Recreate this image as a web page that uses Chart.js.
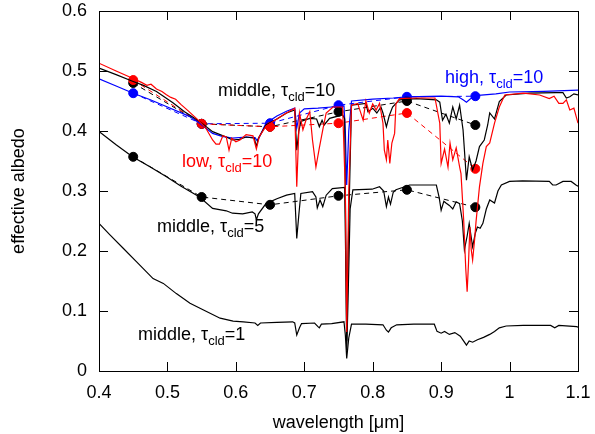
<!DOCTYPE html>
<html>
<head>
<meta charset="utf-8">
<script src="https://cdn.jsdelivr.net/npm/chart.js@4/dist/chart.umd.min.js"></script>
<style>
  body { margin: 0; background: #fff; }
</style>
</head>
<body>
<canvas id="albedo_graph" width="595" height="434"></canvas>
<script>
// tick values
const xTickVals = [0.4, 0.5, 0.6, 0.7, 0.8, 0.9, 1.0, 1.1];
const yTickVals = [0, 0.1, 0.2, 0.3, 0.4, 0.5, 0.6];

// band-averaged points (dashed lines with dots)
const dotWl = [0.45, 0.55, 0.65, 0.75, 0.85, 0.95];
const dotMid10 = [0.480, 0.412, 0.407, 0.432, 0.450, 0.410];
const dotHigh10 = [0.463, 0.412, 0.413, 0.443, 0.457, 0.458];
const dotLow10 = [0.485, 0.412, 0.407, 0.413, 0.430, 0.337];
const dotMid5 = [0.357, 0.290, 0.277, 0.292, 0.302, 0.273];

// spectra: middle cloud, tau=1
const mid1Wl = [0.400,0.416,0.435,0.455,0.479,0.494,0.513,0.533,0.552,0.577,0.596,0.611,0.628,0.632,0.636,0.660,0.683,0.686,0.689,0.693,0.696,0.715,0.720,0.722,0.725,0.740,0.758,0.760,0.762,0.765,0.769,0.790,0.815,0.820,0.823,0.827,0.835,0.860,0.890,0.894,0.900,0.905,0.912,0.920,0.928,0.934,0.937,0.941,0.946,0.953,0.962,0.971,0.978,0.985,0.995,1.020,1.060,1.066,1.072,1.098,1.100];
const mid1Alb = [0.246,0.227,0.205,0.182,0.154,0.146,0.129,0.113,0.102,0.088,0.083,0.082,0.080,0.076,0.080,0.081,0.082,0.080,0.060,0.072,0.079,0.080,0.074,0.072,0.078,0.079,0.082,0.060,0.021,0.055,0.078,0.078,0.077,0.068,0.065,0.072,0.077,0.078,0.078,0.066,0.063,0.066,0.061,0.064,0.058,0.048,0.043,0.050,0.048,0.052,0.056,0.061,0.066,0.072,0.075,0.076,0.076,0.072,0.076,0.074,0.073];

// middle cloud, tau=5
const mid5Wl = [0.400,0.425,0.449,0.475,0.498,0.520,0.547,0.566,0.586,0.595,0.610,0.624,0.628,0.630,0.633,0.644,0.660,0.674,0.686,0.689,0.692,0.695,0.712,0.717,0.719,0.723,0.727,0.732,0.741,0.759,0.761,0.762,0.764,0.767,0.771,0.799,0.810,0.816,0.820,0.823,0.826,0.830,0.834,0.854,0.893,0.897,0.900,0.904,0.907,0.912,0.917,0.922,0.927,0.931,0.934,0.938,0.941,0.946,0.950,0.953,0.957,0.961,0.966,0.971,0.978,0.983,0.988,1.000,1.019,1.058,1.063,1.068,1.078,1.090,1.097,1.100];
const mid5Alb = [0.399,0.377,0.357,0.340,0.324,0.308,0.290,0.271,0.267,0.263,0.262,0.265,0.262,0.252,0.262,0.279,0.287,0.293,0.296,0.221,0.260,0.296,0.299,0.290,0.272,0.285,0.274,0.293,0.304,0.306,0.150,0.035,0.120,0.270,0.302,0.303,0.307,0.300,0.274,0.290,0.278,0.298,0.302,0.310,0.310,0.290,0.268,0.283,0.280,0.276,0.270,0.282,0.279,0.250,0.202,0.225,0.246,0.207,0.230,0.240,0.238,0.246,0.270,0.285,0.280,0.300,0.310,0.316,0.317,0.316,0.310,0.310,0.316,0.316,0.310,0.308];

// middle cloud, tau=10
const mid10Wl = [0.400,0.425,0.449,0.465,0.484,0.508,0.525,0.547,0.566,0.586,0.595,0.605,0.615,0.627,0.630,0.633,0.644,0.660,0.674,0.686,0.689,0.692,0.695,0.708,0.718,0.722,0.726,0.729,0.737,0.756,0.759,0.762,0.765,0.769,0.790,0.793,0.800,0.806,0.812,0.815,0.820,0.824,0.829,0.839,0.864,0.893,0.898,0.902,0.907,0.912,0.917,0.922,0.927,0.932,0.937,0.941,0.946,0.951,0.956,0.963,0.968,0.971,0.978,0.985,0.995,1.029,1.068,1.078,1.083,1.088,1.094,1.100];
const mid10Alb = [0.505,0.494,0.483,0.476,0.466,0.447,0.432,0.416,0.399,0.390,0.385,0.386,0.390,0.388,0.374,0.388,0.410,0.420,0.430,0.435,0.368,0.400,0.416,0.421,0.420,0.407,0.418,0.410,0.421,0.427,0.420,0.050,0.250,0.443,0.446,0.432,0.438,0.430,0.440,0.430,0.407,0.425,0.440,0.452,0.454,0.452,0.448,0.418,0.428,0.413,0.440,0.420,0.443,0.402,0.318,0.357,0.335,0.350,0.374,0.385,0.410,0.430,0.420,0.449,0.460,0.463,0.464,0.464,0.455,0.457,0.462,0.460];

// high cloud, tau=10
const high10Wl = [0.400,0.425,0.450,0.475,0.494,0.533,0.547,0.566,0.580,0.595,0.615,0.628,0.631,0.634,0.644,0.660,0.674,0.686,0.689,0.693,0.700,0.720,0.740,0.758,0.760,0.762,0.765,0.769,0.800,0.830,0.850,0.900,0.925,0.932,0.937,0.942,0.950,0.980,1.000,1.050,1.100];
const high10Alb = [0.487,0.475,0.463,0.452,0.443,0.424,0.413,0.396,0.391,0.388,0.390,0.389,0.384,0.389,0.413,0.425,0.433,0.438,0.405,0.430,0.437,0.438,0.440,0.442,0.400,0.310,0.400,0.450,0.453,0.455,0.457,0.458,0.457,0.452,0.448,0.453,0.459,0.462,0.465,0.466,0.468];

// low cloud, tau=10
const low10Wl = [0.400,0.425,0.449,0.462,0.470,0.476,0.484,0.492,0.498,0.505,0.512,0.520,0.530,0.547,0.556,0.566,0.571,0.576,0.581,0.586,0.590,0.594,0.600,0.606,0.615,0.625,0.630,0.634,0.644,0.660,0.674,0.686,0.689,0.693,0.698,0.703,0.708,0.712,0.717,0.722,0.727,0.732,0.742,0.756,0.760,0.762,0.765,0.769,0.778,0.786,0.790,0.795,0.800,0.805,0.810,0.815,0.817,0.820,0.822,0.825,0.828,0.832,0.834,0.839,0.864,0.891,0.898,0.900,0.905,0.910,0.913,0.917,0.922,0.927,0.929,0.933,0.936,0.938,0.940,0.942,0.944,0.946,0.949,0.951,0.956,0.961,0.966,0.971,0.978,0.985,0.993,1.020,1.044,1.058,1.065,1.072,1.078,1.083,1.088,1.094,1.100];
const low10Alb = [0.513,0.500,0.488,0.481,0.476,0.478,0.470,0.466,0.461,0.456,0.453,0.444,0.434,0.416,0.405,0.385,0.378,0.378,0.392,0.390,0.368,0.388,0.382,0.385,0.394,0.392,0.370,0.390,0.408,0.420,0.430,0.438,0.307,0.430,0.402,0.420,0.432,0.385,0.340,0.372,0.402,0.430,0.440,0.440,0.300,0.065,0.300,0.443,0.446,0.418,0.450,0.430,0.445,0.435,0.446,0.413,0.368,0.352,0.385,0.346,0.380,0.396,0.445,0.454,0.455,0.455,0.413,0.346,0.370,0.340,0.380,0.352,0.372,0.340,0.329,0.250,0.170,0.132,0.180,0.240,0.202,0.185,0.220,0.249,0.307,0.346,0.374,0.380,0.413,0.440,0.460,0.463,0.460,0.454,0.458,0.446,0.446,0.452,0.435,0.438,0.413];

const RED = "#ff0000";
const BLUE = "#0000ff";
const BLACK = "#000000";

function pts(xs, ys) {
  return xs.map((x, i) => ({ x: x, y: ys[i] }));
}

function spectrum(xs, ys, color) {
  return {
    data: pts(xs, ys),
    showLine: true,
    borderColor: color,
    borderWidth: 1.2,
    pointRadius: 0,
  };
}

function bandDots(ys, color) {
  return {
    data: pts(dotWl, ys),
    showLine: true,
    borderColor: color,
    borderWidth: 1,
    borderDash: [5, 4],
    pointRadius: 4.5,
    pointBackgroundColor: color,
    pointBorderColor: color,
  };
}

// no extra room for overhanging tick labels
function noPad(s) {
  s.paddingTop = 0;
  s.paddingBottom = 0;
  s.paddingLeft = 0;
  s.paddingRight = 0;
}

// frame, inward ticks on all sides, curve labels
const framePlugin = {
  id: "frame",
  afterDraw(chart) {
    const ctx = chart.ctx;
    const a = chart.chartArea;
    const xs = chart.scales.x, ys = chart.scales.y;
    ctx.save();
    ctx.strokeStyle = "#000";
    ctx.lineWidth = 1;
    ctx.strokeRect(a.left + 0.5, a.top + 0.5, a.right - a.left, a.bottom - a.top);
    ctx.beginPath();
    xTickVals.forEach((v) => {
      const px = Math.round(xs.getPixelForValue(v)) + 0.5;
      ctx.moveTo(px, a.bottom); ctx.lineTo(px, a.bottom - 9);
      ctx.moveTo(px, a.top); ctx.lineTo(px, a.top + 9);
    });
    yTickVals.forEach((v) => {
      const py = Math.round(ys.getPixelForValue(v)) + 0.5;
      ctx.moveTo(a.left, py); ctx.lineTo(a.left + 9, py);
      ctx.moveTo(a.right, py); ctx.lineTo(a.right - 9, py);
    });
    ctx.stroke();

    const labels = [
      { pre: "middle, ", post: "=10", x: 218, y: 96, c: BLACK },
      { pre: "high, ", post: "=10", x: 445, y: 83, c: BLUE },
      { pre: "low, ", post: "=10", x: 182, y: 167, c: RED },
      { pre: "middle, ", post: "=5", x: 157, y: 232, c: BLACK },
      { pre: "middle, ", post: "=1", x: 138, y: 340, c: BLACK },
    ];
    ctx.textBaseline = "alphabetic";
    ctx.textAlign = "left";
    labels.forEach((l) => {
      ctx.fillStyle = l.c;
      let x = l.x;
      ctx.font = "18px 'Liberation Sans', Arial, sans-serif";
      const main = l.pre + "\u03c4";
      ctx.fillText(main, x, l.y);
      x += ctx.measureText(main).width;
      ctx.font = "13px 'Liberation Sans', Arial, sans-serif";
      ctx.fillText("cld", x, l.y + 5);
      x += ctx.measureText("cld").width;
      ctx.font = "18px 'Liberation Sans', Arial, sans-serif";
      ctx.fillText(l.post, x, l.y);
    });
    ctx.restore();
  },
};

Chart.defaults.font.family = "'Liberation Sans', Arial, sans-serif";
Chart.defaults.font.size = 18;
Chart.defaults.color = "#000";

const config_albedo = {
  type: "scatter",
  data: {
    datasets: [
      spectrum(low10Wl, low10Alb, RED),
      spectrum(mid1Wl, mid1Alb, BLACK),
      spectrum(mid5Wl, mid5Alb, BLACK),
      spectrum(mid10Wl, mid10Alb, BLACK),
      spectrum(high10Wl, high10Alb, BLUE),
      bandDots(dotLow10, RED),
      bandDots(dotMid5, BLACK),
      bandDots(dotMid10, BLACK),
      bandDots(dotHigh10, BLUE),
    ],
  },
  options: {
    responsive: false,
    animation: false,
    devicePixelRatio: 1,
    layout: { padding: { left: 0, right: 17, top: 11, bottom: 0 } },
    plugins: { legend: { display: false }, tooltip: { enabled: false } },
    scales: {
      x: {
        type: "linear",
        min: 0.4,
        max: 1.1,
        afterFit(s) { s.height = 63; noPad(s); },
        afterBuildTicks(s) { s.ticks = xTickVals.map((v) => ({ value: v })); },
        grid: { display: false, drawTicks: false },
        border: { display: false },
        ticks: {
          padding: 11,
          maxRotation: 0,
          callback: (v) => String(Number(v.toFixed(2))),
        },
        title: { display: true, text: "wavelength [\u03bcm]", padding: { top: 0, bottom: 0 } },
      },
      y: {
        type: "linear",
        min: 0,
        max: 0.6,
        afterFit(s) { s.width = 99; noPad(s); },
        afterBuildTicks(s) { s.ticks = yTickVals.map((v) => ({ value: v })); },
        grid: { display: false, drawTicks: false },
        border: { display: false },
        ticks: {
          padding: 12,
          callback: (v) => String(Number(v.toFixed(2))),
        },
        title: { display: true, text: "effective albedo", padding: { top: 8, bottom: 0 } },
      },
    },
  },
  plugins: [framePlugin],
};

new Chart(document.getElementById("albedo_graph"), config_albedo);
</script>
</body>
</html>
